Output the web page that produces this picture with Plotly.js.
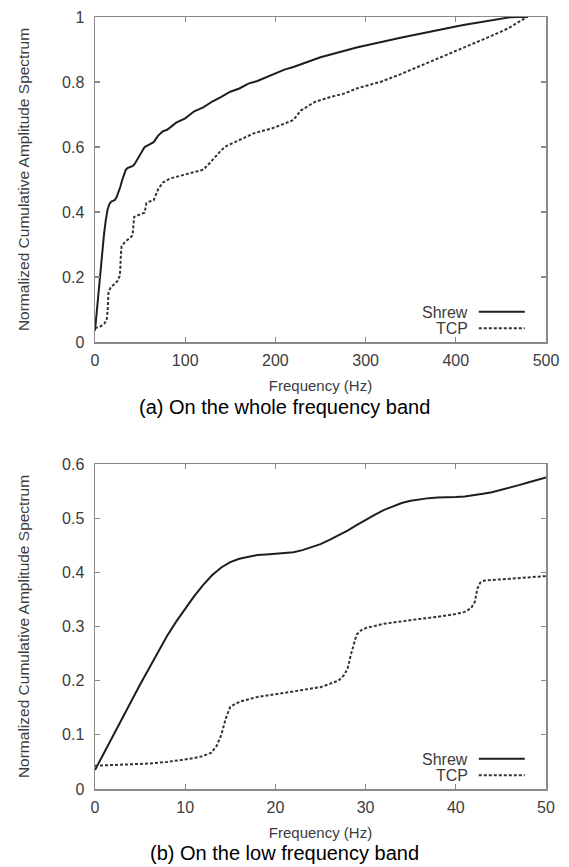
<!DOCTYPE html>
<html>
<head>
<meta charset="utf-8">
<script src="https://cdn.plot.ly/plotly-3.0.1.min.js"></script>
<style>
  html, body { margin: 0; padding: 0; background: #fff; }
  #chart { width: 569px; height: 867px; }
</style>
</head>
<body>
<div id="chart"></div>
<script>
// ---------- Data ----------
const seriesNames = ["Shrew", "TCP"];
const captionA = "(a) On the whole frequency band";
const captionB = "(b) On the low frequency band";
const xTitle = "Frequency (Hz)";
const yTitle = "Normalized Cumulative Amplitude Spectrum";

// (a) whole band, 0–500 Hz
const wholeShrewFreq = [0, 2, 4, 6, 8, 10, 12, 14, 16, 18, 20, 22, 24, 26, 28, 30, 32, 34, 36, 38, 40, 42, 44, 46, 48, 50,
  55, 60, 65, 70, 75, 80, 90, 100, 110, 120, 130, 140, 150, 160, 170, 180, 190, 200, 210, 220, 230, 240, 250, 260, 270, 280, 290,
  300, 310, 320, 330, 340, 350, 360, 370, 380, 390, 400, 410, 420, 430, 440, 450, 460, 470, 480];
const wholeShrew = [0.035, 0.099, 0.162, 0.223, 0.283, 0.332, 0.376, 0.408, 0.425, 0.432, 0.434, 0.437, 0.446, 0.46, 0.477, 0.497, 0.515, 0.529, 0.535, 0.538, 0.539, 0.542, 0.548, 0.557, 0.566, 0.575,
  0.600, 0.607, 0.615, 0.635, 0.648, 0.653, 0.675, 0.688, 0.710, 0.722, 0.740, 0.754, 0.770, 0.780, 0.795, 0.803, 0.815, 0.825, 0.838, 0.846, 0.857, 0.866, 0.876, 0.884, 0.892, 0.899, 0.906,
  0.912, 0.919, 0.925, 0.931, 0.937, 0.943, 0.949, 0.955, 0.961, 0.966, 0.971, 0.976, 0.981, 0.986, 0.991, 0.995, 0.999, 1.0, 1.0];

const wholeTcpFreq = [0, 5, 10, 12.9, 14, 15, 17, 20, 25, 27.3, 28, 28.7, 29.5, 33.7, 37.7, 41, 42, 42.6, 43.4, 50, 55, 57, 60, 65, 70, 75, 83, 90, 99, 113, 120, 127, 135, 140, 145, 155, 168, 176, 186, 196, 210, 220, 228, 236, 244, 260, 277, 290, 300, 317, 337, 357, 377, 397, 418, 438, 458, 470, 479];
const wholeTcp = [0.043, 0.046, 0.056, 0.066, 0.098, 0.153, 0.166, 0.175, 0.188, 0.203, 0.222, 0.27, 0.295, 0.309, 0.317, 0.326, 0.338, 0.381, 0.385, 0.393, 0.398, 0.427, 0.432, 0.436, 0.47, 0.49, 0.503, 0.508, 0.514, 0.524, 0.53, 0.55, 0.575, 0.59, 0.602, 0.615, 0.632, 0.642, 0.65, 0.657, 0.672, 0.683, 0.712, 0.725, 0.739, 0.753, 0.765, 0.78, 0.787, 0.801, 0.822, 0.845, 0.868, 0.892, 0.915, 0.94, 0.965, 0.984, 1.0];

// (b) low band, 0–50 Hz
const lowShrewFreq = [0, 1, 2, 3, 4, 5, 6, 7, 8, 9, 10, 11, 12, 13, 14, 15, 16, 17, 18, 19, 20, 21, 22, 23, 24, 25, 26, 27, 28, 29, 30, 31, 32, 33, 34, 35, 36, 37, 38, 39, 40, 41, 42, 43, 44, 45, 46, 47, 48, 49, 50];
const lowShrew = [0.035, 0.067, 0.099, 0.131, 0.162, 0.193, 0.223, 0.254, 0.283, 0.309, 0.333, 0.356, 0.377, 0.395, 0.409, 0.419, 0.425, 0.429, 0.432, 0.433, 0.434, 0.435, 0.437, 0.441, 0.446, 0.452, 0.46, 0.468, 0.477, 0.487, 0.497, 0.506, 0.515, 0.522, 0.528, 0.532, 0.535, 0.537, 0.538, 0.538, 0.539, 0.54, 0.542, 0.545, 0.548, 0.552, 0.557, 0.561, 0.566, 0.57, 0.575];

const lowTcpFreq = [0, 2, 4, 6, 8, 10, 11, 12, 12.9, 13.5, 14, 14.5, 15, 16, 17, 18, 20, 22, 24, 25, 26, 27, 27.6, 28, 28.4, 28.7, 29, 29.5, 30, 32, 34, 36, 38, 40, 41, 41.7, 42.1, 42.4, 42.7, 43.2, 45, 47, 50];
const lowTcp = [0.043, 0.044, 0.045, 0.047, 0.05, 0.054, 0.057, 0.061, 0.067, 0.08, 0.1, 0.13, 0.152, 0.161, 0.166, 0.17, 0.175, 0.18, 0.185, 0.188, 0.194, 0.2, 0.21, 0.222, 0.25, 0.27, 0.285, 0.293, 0.297, 0.305, 0.31, 0.314, 0.318, 0.323, 0.327, 0.334, 0.345, 0.37, 0.381, 0.385, 0.387, 0.389, 0.393];

// ---------- Styles ----------
const W = 569, H = 867;
const FONT = "Liberation Sans, Arial, Helvetica, sans-serif";
const AXIS_GRAY = "#8a8a8a";
const TEXT_GRAY = "#3c3c3c";
const shrewLine = { color: "#1e1e1e", width: 2 };
const tcpLine = { color: "#333333", width: 2, dash: "3px,2px" };

// pixel -> paper helpers (layout only)
const px = v => v / W;
const py = v => (H - v) / H;

const plotLeft = 95, plotRight = 546;
const topA = 17, botA = 342, topB = 464, botB = 789;

function xAxis(range, dtick, anchor) {
  return {
    domain: [px(plotLeft), px(plotRight)], range: range, dtick: dtick, tick0: 0,
    anchor: anchor, showgrid: false, zeroline: false,
    showline: true, linecolor: AXIS_GRAY, linewidth: 1.5, mirror: "ticks",
    ticks: "inside", ticklen: 5, tickwidth: 1.2, tickcolor: AXIS_GRAY,
    tickfont: { family: FONT, size: 16, color: TEXT_GRAY },
    ticklabelstandoff: 3,
    title: { text: xTitle, font: { family: FONT, size: 15, color: TEXT_GRAY }, standoff: 13 },
    automargin: false, fixedrange: true
  };
}
function yAxis(range, dtick, anchor, dom) {
  return {
    domain: dom, range: range, dtick: dtick, tick0: 0,
    anchor: anchor, showgrid: false, zeroline: false,
    showline: true, linecolor: AXIS_GRAY, linewidth: 1.5, mirror: "ticks",
    ticks: "inside", ticklen: 5, tickwidth: 1.2, tickcolor: AXIS_GRAY,
    tickfont: { family: FONT, size: 16, color: TEXT_GRAY },
    ticklabelstandoff: 6,
    title: { text: yTitle, font: { family: FONT, size: 15.5, color: TEXT_GRAY }, standoff: 28 },
    automargin: false, fixedrange: true
  };
}

const traces = [
  { x: wholeShrewFreq, y: wholeShrew, name: seriesNames[0], type: "scatter", mode: "lines", line: shrewLine, xaxis: "x", yaxis: "y", showlegend: false, cliponaxis: true },
  { x: wholeTcpFreq, y: wholeTcp, name: seriesNames[1], type: "scatter", mode: "lines", line: tcpLine, xaxis: "x", yaxis: "y", showlegend: false, cliponaxis: true },
  { x: lowShrewFreq, y: lowShrew, name: seriesNames[0], type: "scatter", mode: "lines", line: shrewLine, xaxis: "x2", yaxis: "y2", showlegend: false, cliponaxis: true },
  { x: lowTcpFreq, y: lowTcp, name: seriesNames[1], type: "scatter", mode: "lines", line: tcpLine, xaxis: "x2", yaxis: "y2", showlegend: false, cliponaxis: true }
];

// manual legends (text left, sample right), in axis-domain coordinates
function legendItems(xd, yd) {
  const ann = [], shp = [];
  const rows = [{ name: seriesNames[0], line: shrewLine, y: 0.093 }, { name: seriesNames[1], line: tcpLine, y: 0.042 }];
  rows.forEach(r => {
    ann.push({ xref: xd, yref: yd, x: 0.829, y: r.y, xanchor: "right", yanchor: "middle",
      text: r.name, showarrow: false, height: 14, borderpad: 0, valign: "middle",
      font: { family: FONT, size: 16, color: TEXT_GRAY } });
    shp.push({ type: "line", xref: xd, yref: yd, x0: 0.851, x1: 0.953, y0: r.y, y1: r.y, line: r.line });
  });
  return { ann, shp };
}
const legA = legendItems("x domain", "y domain");
const legB = legendItems("x2 domain", "y2 domain");

const layout = {
  width: W, height: H,
  margin: { l: 0, r: 0, t: 0, b: 0, pad: 0 },
  paper_bgcolor: "#ffffff", plot_bgcolor: "#ffffff",
  font: { family: FONT, color: TEXT_GRAY },
  xaxis: xAxis([0, 500], 100, "y"),
  yaxis: yAxis([0, 1], 0.2, "x", [py(botA), py(topA)]),
  xaxis2: xAxis([0, 50], 10, "y2"),
  yaxis2: yAxis([0, 0.6], 0.1, "x2", [py(botB), py(topB)]),
  showlegend: false,
  annotations: [
    { xref: "paper", yref: "paper", x: 0.5, y: py(407), xanchor: "center", yanchor: "middle",
      text: captionA, showarrow: false, font: { family: FONT, size: 20, color: "#000000" } },
    { xref: "paper", yref: "paper", x: 0.5, y: py(853), xanchor: "center", yanchor: "middle",
      text: captionB, showarrow: false, font: { family: FONT, size: 20, color: "#000000" } }
  ].concat(legA.ann, legB.ann),
  shapes: [].concat(legA.shp, legB.shp)
};

Plotly.newPlot("chart", traces, layout, { staticPlot: true, displayModeBar: false });
</script>
</body>
</html>
